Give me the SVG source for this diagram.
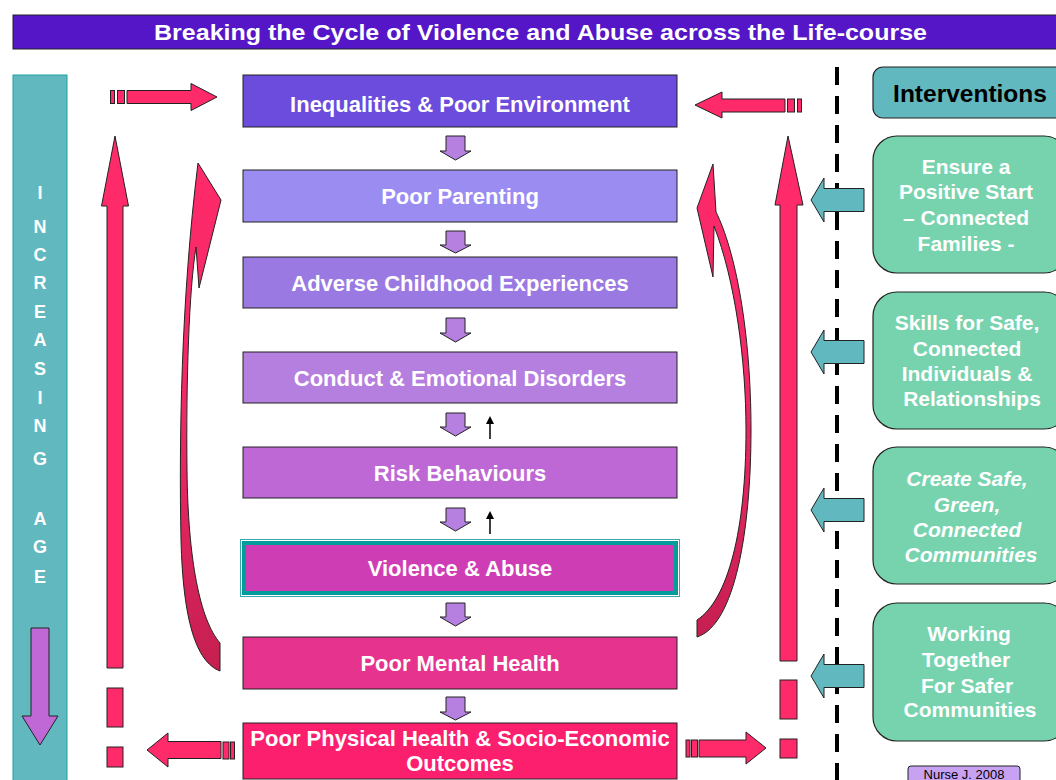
<svg xmlns="http://www.w3.org/2000/svg" width="1056" height="780" viewBox="0 0 1056 780">
<defs>
<linearGradient id="gl" x1="0" y1="0" x2="0" y2="1">
<stop offset="0" stop-color="#ff2a6a"/><stop offset="0.5" stop-color="#f02866"/><stop offset="1" stop-color="#c51f50"/>
</linearGradient>
<style>
.t{font-family:"Liberation Sans",Arial,sans-serif;font-weight:bold;fill:#fff;text-anchor:middle}
.box{stroke:#222;stroke-width:1}
.pk{fill:#ff2a6a;stroke:#222;stroke-width:1}
.da{fill:#b680e0;stroke:#222;stroke-width:1}
.tl{fill:#62b8bf;stroke:#222;stroke-width:1}
.gr{fill:#76d3ae;stroke:#222;stroke-width:1.2}
.it{font-size:21px}
.bx{font-size:22px}
</style>
</defs>
<rect width="1056" height="780" fill="#fff"/>

<g id="title">
<rect x="13" y="15" width="1050" height="34" fill="#5516c8" stroke="#222" stroke-width="1"/>
<text class="t" x="540.5" y="40" font-size="22" textLength="773" lengthAdjust="spacingAndGlyphs">Breaking the Cycle of Violence and Abuse across the Life-course</text>
</g>

<g id="age-bar">
<rect x="13" y="75" width="54" height="710" fill="#62b8bf" stroke="#1aa3a3" stroke-width="1"/>
<g class="t" font-size="18">
<text x="40" y="199">I</text><text x="40" y="233">N</text><text x="40" y="261">C</text><text x="40" y="289">R</text><text x="40" y="318">E</text><text x="40" y="346">A</text><text x="40" y="375">S</text><text x="40" y="404">I</text><text x="40" y="432">N</text><text x="40" y="465">G</text><text x="40" y="525">A</text><text x="40" y="553">G</text><text x="40" y="583">E</text>
</g>
<path d="M31,628 H49 V716 H58 L40,745 L22,716 H31 Z" fill="#bf68d6" stroke="#222" stroke-width="1"/>
</g>

<g id="n1"><rect class="box" x="243" y="75" width="434" height="52" fill="#6c4cdc"/><text class="t bx" x="460" y="112">Inequalities &amp; Poor Environment</text></g>
<g id="n2"><rect class="box" x="243" y="170" width="434" height="52" fill="#9b8cf2"/><text class="t bx" x="460" y="204">Poor Parenting</text></g>
<g id="n3"><rect class="box" x="243" y="257" width="434" height="51" fill="#9a7ae2"/><text class="t bx" x="460" y="291">Adverse Childhood Experiences</text></g>
<g id="n4"><rect class="box" x="243" y="352" width="434" height="51" fill="#b57fe0"/><text class="t bx" x="460" y="386">Conduct &amp; Emotional Disorders</text></g>
<g id="n5"><rect class="box" x="243" y="447" width="434" height="51" fill="#be68d6"/><text class="t bx" x="460" y="481">Risk Behaviours</text></g>
<g id="n6"><rect x="240.5" y="539.5" width="439" height="57" fill="#fff" stroke="#3aa9a9" stroke-width="1"/><rect x="244" y="543" width="432" height="50" fill="#cf3db5" stroke="#009d9a" stroke-width="4"/><text class="t bx" x="460" y="576">Violence &amp; Abuse</text></g>
<g id="n7"><rect class="box" x="243" y="637" width="434" height="52" fill="#e6338e"/><text class="t bx" x="460" y="671">Poor Mental Health</text></g>
<g id="n8"><rect class="box" x="243" y="723" width="434" height="56" fill="#fb1f6e"/><text class="t bx" x="460" y="746">Poor Physical Health &amp; Socio-Economic</text><text class="t bx" x="460" y="771">Outcomes</text></g>

<g id="interventions-header"><rect x="873" y="67" width="195" height="51" rx="10" fill="#62b8bf" stroke="#222" stroke-width="1.2"/><text x="970" y="102" font-family="Liberation Sans,Arial,sans-serif" font-weight="bold" font-size="24.5" fill="#000" text-anchor="middle">Interventions</text></g>
<g id="i1"><rect class="gr" x="873" y="136" width="195" height="137" rx="24"/><g class="t it"><text x="966" y="174">Ensure a</text><text x="966" y="199">Positive Start</text><text x="966" y="225">– Connected</text><text x="966" y="251">Families -</text></g></g>
<g id="i2"><rect class="gr" x="873" y="292" width="195" height="137" rx="24"/><g class="t it"><text x="967" y="330">Skills for Safe,</text><text x="967" y="356">Connected</text><text x="967" y="381">Individuals &amp;</text><text x="972" y="406">Relationships</text></g></g>
<g id="i3"><rect class="gr" x="873" y="447" width="195" height="137" rx="24"/><g class="t it" font-style="italic"><text x="967" y="486">Create Safe,</text><text x="967" y="512">Green,</text><text x="967" y="537">Connected</text><text x="971" y="562">Communities</text></g></g>
<g id="i4"><rect class="gr" x="873" y="603" width="195" height="138" rx="24"/><g class="t it"><text x="969" y="641">Working</text><text x="966" y="667">Together</text><text x="967" y="693">For Safer</text><text x="970" y="717">Communities</text></g></g>

<g id="credit"><rect x="908" y="766" width="112" height="22" rx="3" fill="#c8a2f2" stroke="#222" stroke-width="1"/><text x="964" y="779" font-family="Liberation Sans,Arial,sans-serif" font-size="13" fill="#000" text-anchor="middle">Nurse J. 2008</text></g>

<g id="connectors">
<line x1="837" y1="67" x2="837" y2="780" stroke="#000" stroke-width="4" stroke-dasharray="18 11"/>
<g class="da">
<path d="M446,136 H465 V151 H471 L455.5,160 L440,151 H446 Z"/>
<path d="M446,231 H465 V245 H471 L455.5,253 L440,245 H446 Z"/>
<path d="M446,318 H465 V333 H471 L455.5,342 L440,333 H446 Z"/>
<path d="M446,413 H465 V427 H471 L455.5,436 L440,427 H446 Z"/>
<path d="M446,508 H465 V522 H471 L455.5,531 L440,522 H446 Z"/>
<path d="M446,603 H465 V617 H471 L455.5,626 L440,617 H446 Z"/>
<path d="M446,697 H465 V712 H471 L455.5,720 L440,712 H446 Z"/>
</g>
<g stroke="#000" stroke-width="1.5" fill="#000">
<line x1="490" y1="439" x2="490" y2="422"/><path d="M486,424 L490,416 L494,424 Z" stroke="none"/>
<line x1="490" y1="534" x2="490" y2="517"/><path d="M486,519 L490,511 L494,519 Z" stroke="none"/>
</g>
<g class="pk">
<rect x="110.5" y="90.5" width="4" height="13"/><rect x="117.5" y="90.5" width="7" height="13"/>
<path d="M127,90.5 H191 V83.5 L217,97 L191,110.5 V103.5 H127 Z"/>
<rect x="797.5" y="99" width="4" height="13"/><rect x="787.5" y="99" width="7" height="13"/>
<path d="M785,99 H722 V92 L695,105 L722,118 V112 H785 Z"/>
<rect x="230.5" y="742" width="4" height="17"/><rect x="223" y="742" width="6" height="17"/>
<path d="M221,741.5 H168 V733 L147,750 L168,767 V758.5 H221 Z"/>
<rect x="686" y="740" width="4" height="17"/><rect x="691.5" y="740" width="6" height="17"/>
<path d="M699,740 H746 V732 L766,748 L746,764 V757 H699 Z"/>
</g>
<g class="pk">
<path d="M107,668 V206 H101.5 L115,136 L128.5,206 H123 V668 Z"/>
<rect x="107" y="688" width="16" height="39"/><rect x="107" y="747" width="16" height="20"/>
<path d="M780,661 V205 H775 L788,136 L803,205 H797 V661 Z"/>
<rect x="780" y="680" width="17" height="39"/><rect x="780" y="739" width="17" height="19"/>
</g>
<path d="M198,163 L221,200 L199,288 L196,247 C189,290 186,380 187,470 C188,560 200,620 220,643 L220,671 C196,662 183,620 181,540 C179,440 181,300 198,163 Z" fill="url(#gl)" stroke="#222" stroke-width="1"/>
<path d="M713,164 L697,208 L713,277 L714,226 C735,280 746,360 746,430 C746,530 728,600 697,620 L697,637 C735,625 751,530 751,430 C751,330 735,250 716,212 Z" fill="url(#gl)" stroke="#222" stroke-width="1"/>
<g class="tl">
<path d="M864,188.5 H824 V178 L811,200 L824,222 V211.5 H864 Z"/>
<path d="M864,340.5 H824 V330 L811,352 L824,374 V363.5 H864 Z"/>
<path d="M864,498.5 H824 V488 L811,510 L824,532 V521.5 H864 Z"/>
<path d="M864,664.5 H824 V654 L811,676 L824,698 V687.5 H864 Z"/>
</g>
</g>
</svg>
